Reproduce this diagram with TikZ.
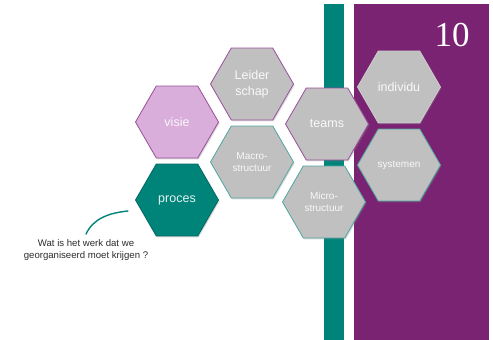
\documentclass[tikz,border=0pt]{standalone}
\usepackage{fontspec}
\setmainfont{Liberation Sans}
\newfontfamily\slidenumfont{Liberation Serif}
\usetikzlibrary{shapes.geometric, shadows}
\definecolor{stripTeal}{HTML}{00847A}
\definecolor{stripPurple}{HTML}{7A2373}
\definecolor{hexGrey}{HTML}{C0C0C0}
\definecolor{hexLilac}{HTML}{D9AEDB}
\definecolor{edgePurple}{HTML}{9A4E9C}
\definecolor{edgeTeal}{HTML}{4FA7A0}
\definecolor{textDark}{HTML}{2B2B2B}
\tikzset{
    hexa/.style={regular polygon, regular polygon sides=6, minimum size=83pt,
        inner sep=0pt, fill=hexGrey, line width=0.8pt, align=center,
        text=white, text opacity=0.9, font=\fontsize{12.5}{16}\selectfont,
        drop shadow={opacity=0.3, shadow xshift=1pt, shadow yshift=-1.5pt}},
    hexP/.style={hexa, draw=edgePurple},
    hexT/.style={hexa, draw=edgeTeal},
    smalltxt/.style={font=\fontsize{10}{11.5}\selectfont},
    callout/.style={stripTeal, line width=1.4pt, line cap=round}
}

\begin{document}
\begin{tikzpicture}[x=1pt, y=-1pt]
        \useasboundingbox (0,0) rectangle (493,340);
        % --- STRIPS ---
        \fill[stripTeal] (324,4) rectangle (344,340);
        \fill[stripPurple] (354,4) rectangle (489,340);
        \node[text=white, font=\slidenumfont\fontsize{35}{35}\selectfont] (slidenr) at (452,35) {10};

        % --- HEXAGONS ---
        \node[hexP, fill=hexLilac] (visie) at (177,122) {visie};
        \node[hexT, fill=stripTeal, draw=stripTeal!80!black] (proces) at (177,200) {proces};
        \node[hexP] (leider) at (252,84) {Leider\\schap};
        \node[hexT, smalltxt] (macro) at (252,162) {Macro-\\structuur};
        \node[hexP] (teams) at (327,124) {teams};
        \node[hexT, smalltxt] (micro) at (324,202) {Micro-\\structuur};
        \node[hexP, draw=hexGrey!80!white] (individu) at (399,87) {individu};
        \node[hexT, smalltxt] (systemen) at (399,165) {systemen};

        % --- QUESTION ---
        \node[text=textDark, align=center, inner sep=0pt, font=\fontsize{9.6}{12.5}\selectfont] (question) at (86,250) {Wat is het werk dat we\\georganiseerd moet krijgen ?};
        \coordinate (qtip) at (128,211);
        \draw[callout] ([yshift=5pt]question.north) .. controls (93,219) and (108,213) .. (qtip);
\end{tikzpicture}
\end{document}
